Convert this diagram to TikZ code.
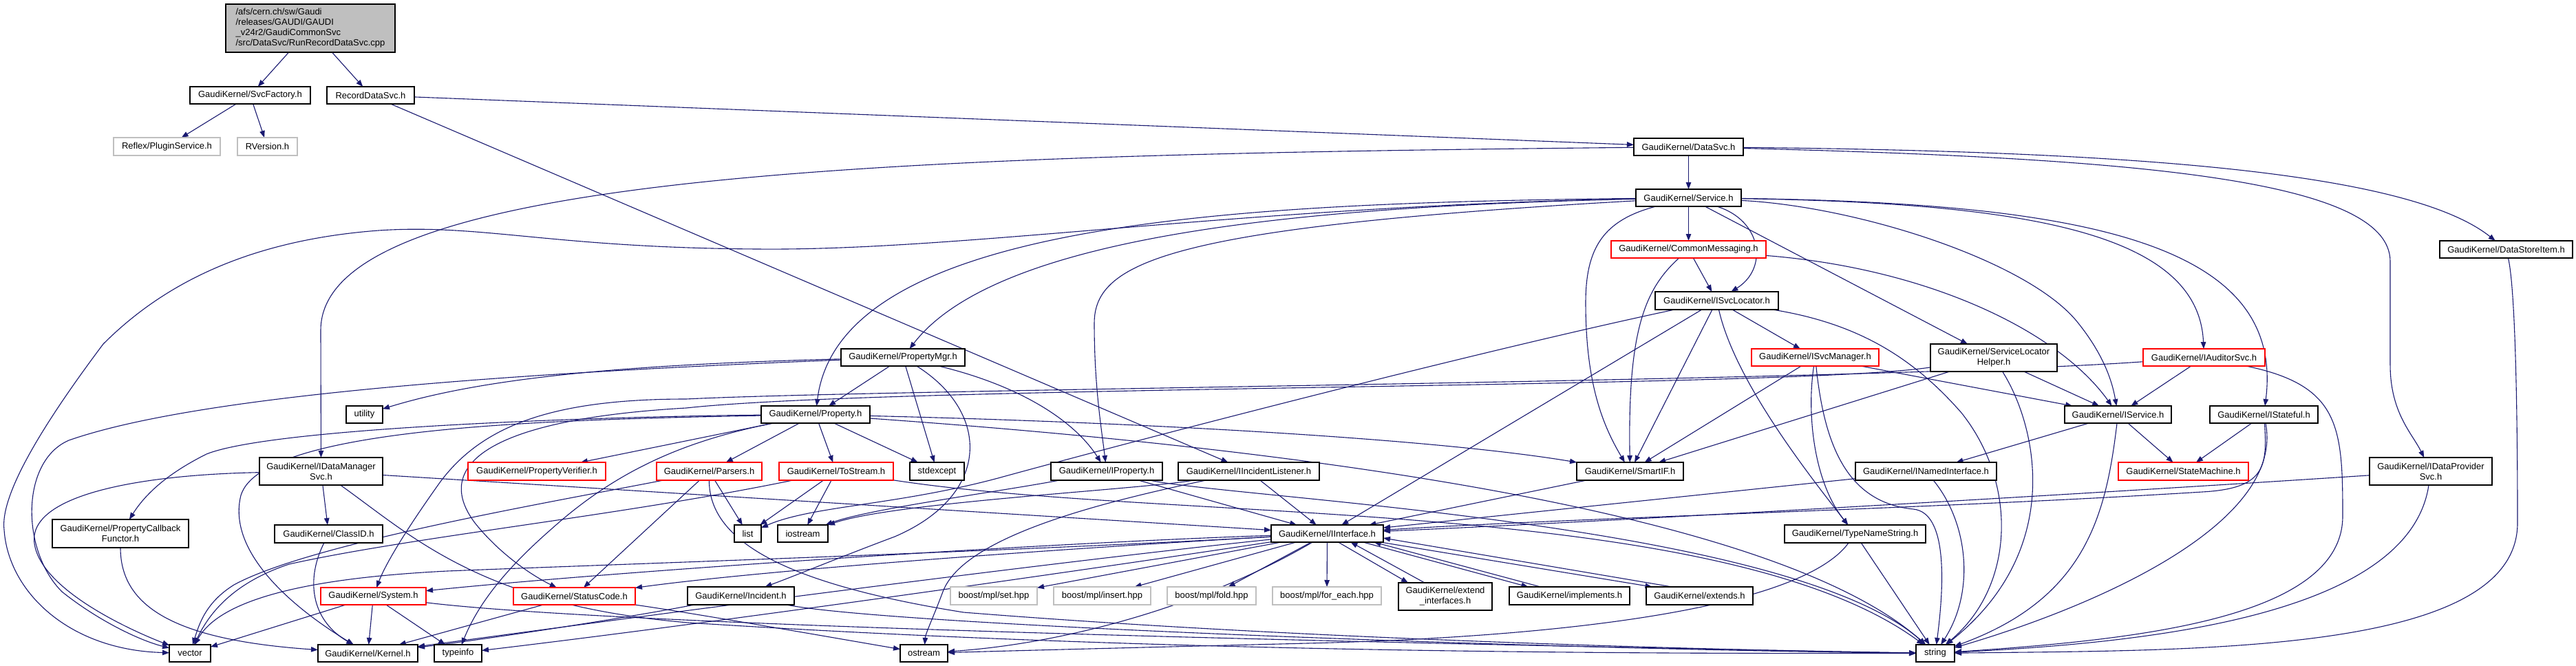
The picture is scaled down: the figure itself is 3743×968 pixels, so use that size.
\documentclass[tikz,border=0pt]{standalone}
\usepackage{fontspec}
\setmainfont{Liberation Sans}
\usetikzlibrary{arrows.meta,backgrounds}
\definecolor{edgeblue}{RGB}{25,25,112}
\definecolor{rootgray}{RGB}{191,191,191}
\definecolor{extgray}{RGB}{191,191,191}
\definecolor{boxred}{RGB}{255,0,0}
\begin{document}
\begin{tikzpicture}[x=1pt,y=-1pt,
  every node/.style={font=\fontsize{13pt}{15pt}\selectfont, inner sep=0pt, outer sep=0pt},
  nb/.style={draw=black, line width=1.3pt, fill=white, rectangle, minimum height=25pt},
  nr/.style={draw=boxred, line width=1.3pt, fill=white, rectangle, minimum height=25pt},
  ng/.style={draw=extgray, line width=1.3pt, fill=white, rectangle, minimum height=26pt},
  nroot/.style={draw=black, line width=1.3pt, fill=rootgray, rectangle, align=left},
  two/.style={align=center, minimum height=40pt},
  e/.style={draw=edgeblue, line width=1.1pt, -{Triangle[length=10pt,width=7.5pt]}},
]
\useasboundingbox (0,0) rectangle (3743,968);

% ---------------- nodes ----------------
\node[nroot, minimum width=246pt, minimum height=70pt] (root) at (451,41)
  {/afs/cern.ch/sw/Gaudi\\/releases/GAUDI/GAUDI\\\_v24r2/GaudiCommonSvc\\/src/DataSvc/RunRecordDataSvc.cpp};
\node[nb, minimum width=175pt] (svcfactory) at (363.5,138.5) {GaudiKernel/SvcFactory.h};
\node[nb, minimum width=127pt] (recorddatasvc) at (538.5,138.5) {RecordDataSvc.h};
\node[ng, minimum width=155pt] (pluginservice) at (242.5,213) {Reflex/PluginService.h};
\node[ng, minimum width=87pt] (rversion) at (388.5,213) {RVersion.h};
\node[nb, minimum width=159pt] (datasvc) at (2453.5,213.5) {GaudiKernel/DataSvc.h};
\node[nb, minimum width=153pt] (service) at (2453.5,287.5) {GaudiKernel/Service.h};
\node[nr, minimum width=225pt] (commonmsg) at (2453.5,362.5) {GaudiKernel/CommonMessaging.h};
\node[nb, minimum width=179pt, minimum height=26pt] (isvclocator) at (2494.5,437) {GaudiKernel/ISvcLocator.h};
\node[nb, minimum width=193pt] (datastoreitem) at (3641.5,362.5) {GaudiKernel/DataStoreItem.h};
\node[nb, minimum width=53pt] (utility) at (529.5,602.5) {utility};
\node[nb, two, minimum width=179pt] (idatamanagersvc) at (466.5,685) {GaudiKernel/IDataManager\\Svc.h};
\node[nr, minimum width=200pt, minimum height=26pt] (propverifier) at (780,685) {GaudiKernel/PropertyVerifier.h};
\node[nb, two, minimum width=198pt, minimum height=41pt] (propcallback) at (175,775.5) {GaudiKernel/PropertyCallback\\Functor.h};
\node[nb, minimum width=157pt, minimum height=26pt] (classid) at (477.5,776) {GaudiKernel/ClassID.h};
\node[nr, minimum width=153pt] (system) at (542.5,866.5) {GaudiKernel/System.h};
\node[nr, minimum width=177pt] (statuscode) at (834.5,866.5) {GaudiKernel/StatusCode.h};
\node[nb, minimum width=60pt] (vector) at (276,949.5) {vector};
\node[nb, minimum width=145pt] (kernel) at (534.5,949.5) {GaudiKernel/Kernel.h};
\node[nb, minimum width=69pt] (typeinfo) at (665.5,949.5) {typeinfo};
\node[nb, minimum width=180pt] (propertymgr) at (1312,519.5) {GaudiKernel/PropertyMgr.h};
\node[nb, minimum width=158pt] (property) at (1185,602.5) {GaudiKernel/Property.h};
\node[nr, minimum width=153pt, minimum height=26pt] (parsers) at (1030.5,685) {GaudiKernel/Parsers.h};
\node[nr, minimum width=166pt, minimum height=26pt] (tostream) at (1215,685) {GaudiKernel/ToStream.h};
\node[nb, minimum width=79pt, minimum height=26pt] (stdexcept) at (1361.5,685) {stdexcept};
\node[nb, minimum width=162pt, minimum height=26pt] (iproperty) at (1608,685) {GaudiKernel/IProperty.h};
\node[nb, minimum width=205pt, minimum height=26pt] (iincidentlistener) at (1814.5,685) {GaudiKernel/IIncidentListener.h};
\node[nb, minimum width=39pt] (list) at (1086.5,775.5) {list};
\node[nb, minimum width=73pt] (iostream) at (1166.5,775.5) {iostream};
\node[nb, minimum width=155pt, minimum height=26pt] (incident) at (1076.5,866) {GaudiKernel/Incident.h};
\node[ng, minimum width=126pt] (set) at (1444,866) {boost/mpl/set.hpp};
\node[ng, minimum width=141pt] (insert) at (1601.5,866) {boost/mpl/insert.hpp};
\node[ng, minimum width=129pt] (fold) at (1760.5,866) {boost/mpl/fold.hpp};
\node[ng, minimum width=158pt] (foreach) at (1928,866) {boost/mpl/for\_each.hpp};
\node[nb, minimum width=69pt] (ostream) at (1342.5,949.5) {ostream};
\node[nb, minimum width=163pt] (iinterface) at (1928.5,775.5) {GaudiKernel/IInterface.h};
\node[nr, minimum width=185pt] (isvcmanager) at (2637.5,519.5) {GaudiKernel/ISvcManager.h};
\node[nb, minimum width=155pt, minimum height=26pt] (smartif) at (2368.5,685) {GaudiKernel/SmartIF.h};
\node[nb, minimum width=205pt, minimum height=26pt] (inamedinterface) at (2798.5,685) {GaudiKernel/INamedInterface.h};
\node[nb, minimum width=205pt, minimum height=26pt] (typenamestring) at (2695.5,776) {GaudiKernel/TypeNameString.h};
\node[nb, two, minimum width=136pt] (extendif) at (2100,867) {GaudiKernel/extend\\\_interfaces.h};
\node[nb, minimum width=175pt, minimum height=26pt] (implements) at (2280.5,866) {GaudiKernel/implements.h};
\node[nb, minimum width=155pt, minimum height=26pt] (extends) at (2469.5,866) {GaudiKernel/extends.h};
\node[nb, minimum width=56pt] (string) at (2812,949.5) {string};
\node[nb, two, minimum width=184pt] (servicelocatorhelper) at (2897,520) {GaudiKernel/ServiceLocator\\Helper.h};
\node[nr, minimum width=177pt] (iauditorsvc) at (3202.5,519.5) {GaudiKernel/IAuditorSvc.h};
\node[nb, minimum width=155pt] (iservice) at (3077.5,602.5) {GaudiKernel/IService.h};
\node[nb, minimum width=157pt] (istateful) at (3289.5,602.5) {GaudiKernel/IStateful.h};
\node[nr, minimum width=189pt, minimum height=26pt] (statemachine) at (3172.5,685) {GaudiKernel/StateMachine.h};
\node[nb, two, minimum width=178pt] (idataprovidersvc) at (3532,685) {GaudiKernel/IDataProvider\\Svc.h};

% ---------------- edges ----------------
\begin{pgfonlayer}{background}
\fill[white] (0,0) rectangle (3743,968);
% top part
\draw[e] (root) -- (svcfactory);
\draw[e] (root) -- (recorddatasvc);
\draw[e] (svcfactory) -- (pluginservice);
\draw[e] (svcfactory) -- (rversion);
\draw[e] (recorddatasvc) -- (datasvc);
\draw[e] (recorddatasvc) -- (iincidentlistener);
% DataSvc
\draw[e] (datasvc) -- (service);
\draw[e] (datasvc) .. controls (1300,225) and (466,250) .. (466,480) -- (idatamanagersvc);
\draw[e] (datasvc) .. controls (3100,220) and (3500,250) .. (datastoreitem);
\draw[e] (datasvc) .. controls (3100,230) and (3473,260) .. (3473,380) -- (3473,530) .. controls (3473,600) and (3505,630) .. (idataprovidersvc);
\draw[e] (datastoreitem) .. controls (3655,420) and (3658,600) .. (3658,760) .. controls (3658,950) and (3200,945) .. (string);
% Service
\draw[e] (service) -- (commonmsg);
\draw[e] (service) .. controls (2560,320) and (2570,390) .. (isvclocator);
\draw[e] (service) .. controls (2330,320) and (2304,360) .. (2304,440) .. controls (2304,560) and (2330,620) .. (smartif);
\draw[e] (service) .. controls (1900,300) and (1450,340) .. (propertymgr);
\draw[e] (service) .. controls (1800,295) and (1220,320) .. (property);
\draw[e] (service) .. controls (1700,330) and (1590,380) .. (1590,470) .. controls (1590,560) and (1600,620) .. (iproperty);
\draw[e] (service) .. controls (1800,300) and (1400,365) .. (1100,362) .. controls (800,360) and (700,325) .. (550,335) .. controls (350,350) and (230,420) .. (150,500) .. controls (60,620) and (0,720) .. (6,770) .. controls (12,860) and (100,945) .. (vector);
\draw[e] (service) .. controls (2700,300) and (2950,380) .. (3020,470) .. controls (3060,520) and (3070,560) .. (iservice);
\draw[e] (service) -- (servicelocatorhelper);
\draw[e] (service) .. controls (2950,295) and (3195,340) .. (iauditorsvc);
\draw[e] (service) .. controls (3050,295) and (3320,360) .. (istateful);
% CommonMessaging
\draw[e] (commonmsg) -- (isvclocator);
\draw[e] (commonmsg) .. controls (2390,420) and (2365,480) .. (smartif);
\draw[e] (commonmsg) .. controls (2800,390) and (2990,480) .. (iservice);
% ISvcLocator
\draw[e] (isvclocator) .. controls (2150,510) and (1650,640) .. (1450,695) .. controls (1300,735) and (1180,735) .. (list);
\draw[e] (isvclocator) -- (iinterface);
\draw[e] (isvclocator) -- (smartif);
\draw[e] (isvclocator) .. controls (2520,550) and (2620,680) .. (typenamestring);
\draw[e] (isvclocator) -- (isvcmanager);
\draw[e] (isvclocator) .. controls (2700,470) and (2780,520) .. (2850,600) .. controls (2930,700) and (2930,850) .. (string);
% ISvcManager
\draw[e] (isvcmanager) -- (smartif);
\draw[e] (isvcmanager) .. controls (2625,600) and (2635,700) .. (typenamestring);
\draw[e] (isvcmanager) .. controls (2650,640) and (2680,730) .. (2780,740) .. controls (2830,745) and (2825,850) .. (string);
\draw[e] (isvcmanager) -- (iservice);
% ServiceLocatorHelper
\draw[e] (servicelocatorhelper) -- (smartif);
\draw[e] (servicelocatorhelper) -- (iservice);
\draw[e] (servicelocatorhelper) .. controls (2960,620) and (3000,800) .. (string);
\draw[e] (servicelocatorhelper) .. controls (2600,565) and (1300,560) .. (997,593) .. controls (700,610) and (630,680) .. (690,760) .. controls (730,810) and (780,840) .. (statuscode);
% IAuditorSvc
\draw[e] (iauditorsvc) -- (iservice);
\draw[e] (iauditorsvc) .. controls (3400,560) and (3404,620) .. (3404,750) .. controls (3404,900) and (3100,930) .. (string);
\draw[e] (iauditorsvc) .. controls (2700,555) and (1300,565) .. (997,580) .. controls (800,580) and (700,620) .. (640,700) .. controls (590,770) and (560,820) .. (system);
% IService, IStateful, IDataProviderSvc, INamedInterface
\draw[e] (iservice) -- (inamedinterface);
\draw[e] (iservice) .. controls (3060,750) and (3030,870) .. (string);
\draw[e] (iservice) -- (statemachine);
\draw[e] (istateful) -- (statemachine);
\draw[e] (istateful) .. controls (3320,760) and (3050,880) .. (string);
\draw[e] (istateful) .. controls (3295,680) and (3290,710) .. (3200,715) .. controls (2800,740) and (2300,752) .. (iinterface);
\draw[e] (idataprovidersvc) .. controls (3000,720) and (2300,760) .. (iinterface);
\draw[e] (idataprovidersvc) .. controls (3500,900) and (3100,935) .. (string);
\draw[e] (inamedinterface) -- (iinterface);
\draw[e] (inamedinterface) .. controls (2860,760) and (2870,860) .. (string);
\draw[e] (smartif) -- (iinterface);
\draw[e] (typenamestring) -- (string);
\draw[e] (typenamestring) .. controls (2620,880) and (2300,925) .. (1900,935) .. controls (1700,940) and (1500,945) .. (ostream);
% IDataManagerSvc
\draw[e] (idatamanagersvc) .. controls (200,690) and (40,720) .. (50,790) .. controls (60,860) and (200,920) .. (vector);
\draw[e] (idatamanagersvc) -- (classid);
\draw[e] (idatamanagersvc) -- (iinterface);
\draw[e] (idatamanagersvc) .. controls (600,780) and (700,880) .. (1000,905) .. controls (1700,950) and (2400,950) .. (string);
\draw[e] (classid) .. controls (445,840) and (450,900) .. (kernel);
\draw[e] (propcallback) .. controls (175,880) and (250,930) .. (kernel);
% PropertyMgr
\draw[e] (propertymgr) -- (property);
\draw[e] (propertymgr) -- (stdexcept);
\draw[e] (propertymgr) .. controls (1480,560) and (1560,610) .. (iproperty);
\draw[e] (propertymgr) .. controls (900,530) and (700,550) .. (utility);
\draw[e] (propertymgr) .. controls (800,540) and (300,570) .. (100,640) .. controls (30,670) and (30,800) .. (90,860) .. controls (140,900) and (200,930) .. (vector);
\draw[e] (propertymgr) .. controls (1440,600) and (1440,720) .. (1300,780) .. controls (1220,810) and (1160,835) .. (incident);
% Property
\draw[e] (property) -- (parsers);
\draw[e] (property) -- (tostream);
\draw[e] (property) -- (stdexcept);
\draw[e] (property) -- (propverifier);
\draw[e] (property) .. controls (900,605) and (400,620) .. (300,660) .. controls (240,690) and (210,720) .. (propcallback);
\draw[e] (property) .. controls (800,610) and (380,620) .. (350,720) .. controls (330,800) and (420,880) .. (kernel);
\draw[e] (property) .. controls (1000,640) and (900,680) .. (800,770) .. controls (720,840) and (690,890) .. (typeinfo);
\draw[e] (property) .. controls (1700,615) and (2100,640) .. (smartif);
\draw[e] (property) .. controls (2000,660) and (2600,760) .. (string);
% Parsers
\draw[e] (parsers) -- (list);
\draw[e] (parsers) .. controls (800,730) and (450,790) .. (340,850) .. controls (300,875) and (290,905) .. (vector);
\draw[e] (parsers) -- (statuscode);
\draw[e] (parsers) .. controls (1030,790) and (1150,850) .. (1400,890) .. controls (1900,930) and (2500,945) .. (string);
% ToStream
\draw[e] (tostream) -- (list);
\draw[e] (tostream) -- (iostream);
\draw[e] (tostream) .. controls (900,750) and (600,780) .. (420,820) .. controls (330,850) and (300,900) .. (vector);
\draw[e] (tostream) .. controls (1700,760) and (2500,720) .. (string);
% System, StatusCode
\draw[e] (system) -- (vector);
\draw[e] (system) -- (kernel);
\draw[e] (system) -- (typeinfo);
\draw[e] (system) .. controls (900,910) and (2000,935) .. (string);
\draw[e] (statuscode) -- (kernel);
\draw[e] (statuscode) .. controls (1000,890) and (1200,925) .. (ostream);
% IInterface
\draw[e] (iinterface) .. controls (1500,790) and (900,830) .. (system);
\draw[e] (iinterface) .. controls (1500,800) and (1100,830) .. (statuscode);
\draw[e] (iinterface) .. controls (1500,820) and (900,900) .. (kernel);
\draw[e] (iinterface) .. controls (1500,840) and (1000,910) .. (typeinfo);
\draw[e] (iinterface) .. controls (1500,800) and (900,820) .. (650,830) .. controls (450,840) and (320,870) .. (vector);
\draw[e] (iinterface) .. controls (1750,880) and (1550,935) .. (ostream);
\draw[e] (iinterface) -- (set);
\draw[e] (iinterface) -- (insert);
\draw[e] (iinterface) -- (fold);
\draw[e] (iinterface) -- (foreach);
\draw[e] ([xshift=16pt]iinterface.south) -- ([xshift=-54pt]extendif.north);
\draw[e] ([xshift=-30pt]extendif.north) -- ([xshift=34pt]iinterface.south);
\draw[e] ([xshift=52pt]iinterface.south) -- ([xshift=-60pt]implements.north);
\draw[e] ([xshift=-42pt]implements.north) -- ([xshift=68pt]iinterface.south);
\draw[e] ([xshift=-4pt]iinterface.south east) -- ([xshift=-69pt]extends.north);
\draw[e] ([xshift=-40pt]extends.north) -- ([yshift=6pt]iinterface.south east);
% Incident
\draw[e] (incident) .. controls (900,900) and (700,930) .. (kernel);
\draw[e] (incident) .. controls (1300,910) and (2300,945) .. (string);
% IProperty
\draw[e] (iproperty) -- (iinterface);
\draw[e] (iproperty) .. controls (1800,725) and (2600,760) .. (string);
\draw[e] (iproperty) .. controls (1450,715) and (1260,740) .. (iostream);
% IIncidentListener
\draw[e] (iincidentlistener) -- (iinterface);
\draw[e] (iincidentlistener) .. controls (1650,712) and (1300,730) .. (iostream);
\draw[e] (iincidentlistener) .. controls (1600,730) and (1400,780) .. (1370,860) .. controls (1355,900) and (1345,920) .. (ostream);
\end{pgfonlayer}
\end{tikzpicture}
\end{document}
